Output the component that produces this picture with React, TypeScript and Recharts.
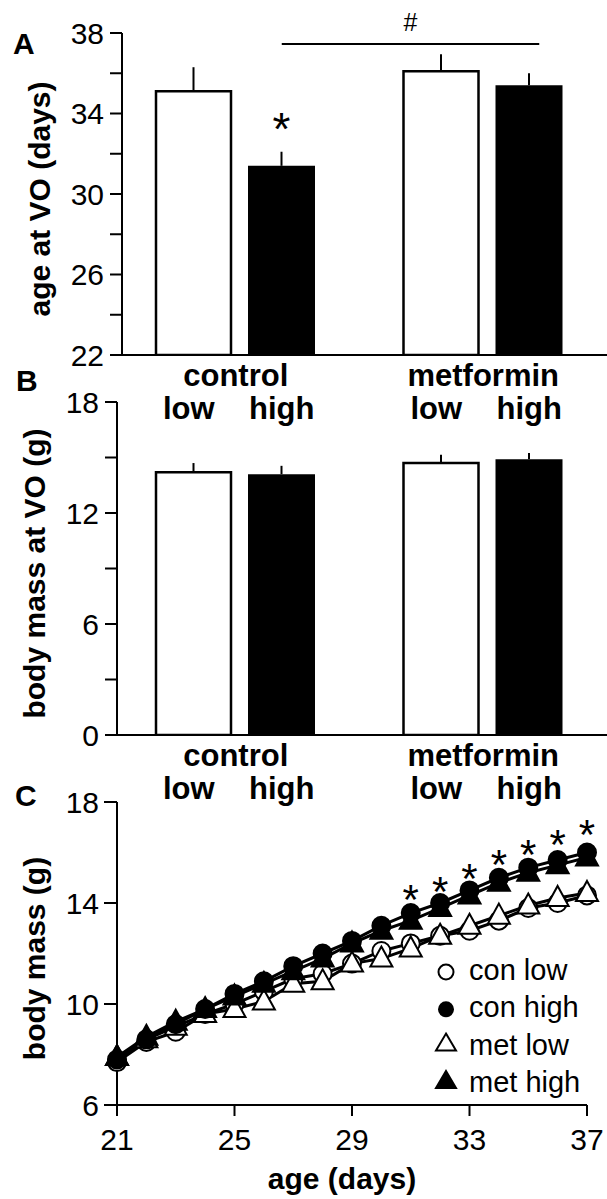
import React from 'react';
import {
  BarChart, Bar, XAxis, YAxis, ErrorBar, LabelList, ReferenceLine,
  ComposedChart, Line, Legend,
} from 'recharts';

const FONT = '"Liberation Sans", Arial, Helvetica, sans-serif';

// panels A and B
const groups = ['control', 'metformin'];
const doses = ['low', 'high'];

const ageLow = [35.1, 36.1];
const ageLowErr = [1.2, 0.85];
const ageHigh = [31.4, 35.4];
const ageHighErr = [0.7, 0.6];
const ageHighStars = ['*', ''];
const ageTicks = [22, 24, 26, 28, 30, 32, 34, 36, 38];
const ageTickLabels = [22, 26, 30, 34, 38];

const massLow = [14.2, 14.7];
const massLowErr = [0.5, 0.45];
const massHigh = [14.1, 14.9];
const massHighErr = [0.45, 0.35];
const massTicks = [0, 3, 6, 9, 12, 15, 18];
const massTickLabels = [0, 6, 12, 18];

// panel C
const days = [21, 22, 23, 24, 25, 26, 27, 28, 29, 30, 31, 32, 33, 34, 35, 36, 37];
const conLow = [7.7, 8.5, 8.9, 9.6, 10.0, 10.5, 11.0, 11.2, 11.6, 12.1, 12.4, 12.7, 12.9, 13.3, 13.8, 14.0, 14.3];
const conHigh = [7.8, 8.6, 9.2, 9.8, 10.4, 10.9, 11.5, 12.0, 12.5, 13.1, 13.6, 14.0, 14.5, 15.0, 15.4, 15.7, 16.0];
const metLow = [7.9, 8.6, 9.1, 9.6, 9.8, 10.1, 10.8, 10.9, 11.6, 11.8, 12.2, 12.7, 13.1, 13.5, 13.9, 14.2, 14.4];
const metHigh = [7.9, 8.7, 9.3, 9.8, 10.3, 10.8, 11.3, 11.8, 12.4, 12.9, 13.3, 13.8, 14.3, 14.8, 15.2, 15.5, 15.8];
const sigDays = [31, 32, 33, 34, 35, 36, 37];
const sigLevel = [14.5, 14.85, 15.35, 15.9, 16.3, 16.7, 17.1];
const growthTicks = [6, 10, 14, 18];
const dayTicks = [21, 25, 29, 33, 37];
const legendLabels = ['con low', 'con high', 'met low', 'met high'];

const ageData = groups.map((g, i) => ({
  group: g,
  low: ageLow[i],
  lowErr: [0, ageLowErr[i]],
  high: ageHigh[i],
  highErr: [0, ageHighErr[i]],
  star: ageHighStars[i],
}));

const massData = groups.map((g, i) => ({
  group: g,
  low: massLow[i],
  lowErr: [0, massLowErr[i]],
  high: massHigh[i],
  highErr: [0, massHighErr[i]],
}));

const growthData = days.map((d, i) => {
  const s = sigDays.indexOf(d);
  return {
    day: d,
    conLow: conLow[i],
    conHigh: conHigh[i],
    metLow: metLow[i],
    metHigh: metHigh[i],
    sig: s >= 0 ? sigLevel[s] : null,
  };
});

const LOW_W = 75;
const HIGH_W = 67;
const GAP = 17;
const BAND_START = 112;

const GroupTick = (props: any) => {
  const { x, y, payload } = props;
  const common = { fontFamily: FONT, fontSize: 31, fontWeight: 'bold', fill: '#000', textAnchor: 'middle' as const };
  return (
    <g>
      <text x={x} y={y + 31} {...common}>{payload.value}</text>
      <text x={x - 47} y={y + 64} {...common}>{doses[0]}</text>
      <text x={x + 46} y={y + 64} {...common}>{doses[1]}</text>
    </g>
  );
};

const yTitle = (text: string, cx: number) => (props: any) => {
  const vb = props.viewBox;
  const cy = vb.y + vb.height / 2 + 5;
  return (
    <text x={cx} y={cy} transform={`rotate(-90 ${cx} ${cy})`} textAnchor="middle"
      dominantBaseline="central" fontFamily={FONT} fontSize={30} fontWeight="bold" fill="#000">
      {text}
    </text>
  );
};

const tickStyle = { fontFamily: FONT, fontSize: 30, fill: '#000' };
const axisStroke = { stroke: '#000', strokeWidth: 2 };

const StarLabel = (props: any) => {
  const { x, y, width, value } = props;
  if (!value) return null;
  return (
    <text x={x + width / 2} y={y - 47 + 26} textAnchor="middle" fontFamily={FONT} fontSize={46} fill="#000">
      {value}
    </text>
  );
};

const Bracket = (props: any) => {
  const { x1, y1, x2 } = props;
  const a = x1 + 46;
  const b = x2 + 56;
  return (
    <g>
      <line x1={a} y1={y1} x2={b} y2={y1} stroke="#000" strokeWidth={2} />
      <text x={(a + b) / 2} y={y1 - 13} textAnchor="middle" fontFamily={FONT} fontSize={25} fill="#000">#</text>
    </g>
  );
};

const circleDot = (fill: string) => (p: any) => {
  if (p.cy == null) return <g key={`c-${p.index}`} />;
  return <circle key={`c-${p.index}`} cx={p.cx} cy={p.cy} r={9} fill={fill} stroke="#000" strokeWidth={2} />;
};

const triDot = (fill: string) => (p: any) => {
  if (p.cy == null) return <g key={`t-${p.index}`} />;
  const { cx, cy } = p;
  return (
    <path key={`t-${p.index}`} d={`M${cx},${cy - 12} L${cx + 11},${cy + 8} L${cx - 11},${cy + 8} Z`}
      fill={fill} stroke="#000" strokeWidth={2} strokeLinejoin="miter" />
  );
};

const starDot = (p: any) => {
  if (p.cy == null || p.value == null) return <g key={`s-${p.index}`} />;
  return (
    <text key={`s-${p.index}`} x={p.cx} y={p.cy + 24} textAnchor="middle" fontFamily={FONT} fontSize={42} fill="#000">*</text>
  );
};

const markerFor = (i: number, cx: number, cy: number) => {
  if (i === 0) return <circle cx={cx} cy={cy} r={7.5} fill="#fff" stroke="#000" strokeWidth={2} />;
  if (i === 1) return <circle cx={cx} cy={cy} r={8} fill="#000" />;
  const fill = i === 2 ? '#fff' : '#000';
  return <path d={`M${cx},${cy - 9} L${cx + 10},${cy + 8} L${cx - 10},${cy + 8} Z`} fill={fill} stroke="#000" strokeWidth={2} />;
};

const GrowthLegend = () => (
  <svg width={177} height={160}>
    {legendLabels.map((lab, i) => {
      const base = 30 + i * 37.3;
      return (
        <g key={lab}>
          {markerFor(i, 16, base - (i < 2 ? 8 : 12))}
          <text x={39} y={base} fontFamily={FONT} fontSize={29} fill="#000">{lab}</text>
        </g>
      );
    })}
  </svg>
);

const xTitle = (text: string) => (props: any) => {
  const vb = props.viewBox;
  return (
    <text x={vb.x + vb.width / 2 - 10} y={vb.y + 84} textAnchor="middle" fontFamily={FONT}
      fontSize={30} fontWeight="bold" fill="#000">
      {text}
    </text>
  );
};

const BarPanel = ({ data, ticks, labels, domain, title, titleX, top, marginTop, axisX, stars }: any) => (
  <div style={{ position: 'absolute', left: 0, top }}>
    <BarChart width={607} height={430} data={data} barGap={GAP}
      margin={{ top: marginTop, right: 0, bottom: 5, left: 0 }}>
      <XAxis dataKey="group" axisLine={axisStroke} tickLine={false} tickSize={0} tickMargin={0}
        height={70} interval={0} tick={<GroupTick />} padding={{ left: BAND_START - axisX, right: 0 }} />
      <YAxis domain={domain} ticks={ticks} width={axisX} axisLine={axisStroke} tickLine={axisStroke}
        tickSize={12} tickMargin={6} tick={tickStyle} allowDataOverflow
        tickFormatter={(v: number) => (labels.includes(v) ? String(v) : '')}
        label={yTitle(title, titleX)} />
      {stars && (
        <ReferenceLine segment={[{ x: 'control', y: 37.45 }, { x: 'metformin', y: 37.45 }]}
          ifOverflow="visible" shape={<Bracket />} />
      )}
      <Bar dataKey="low" barSize={LOW_W} fill="#fff" stroke="#000" strokeWidth={2.5} isAnimationActive={false}>
        <ErrorBar dataKey="lowErr" width={0} stroke="#000" strokeWidth={2} direction="y" />
      </Bar>
      <Bar dataKey="high" barSize={HIGH_W} fill="#000" isAnimationActive={false}>
        <ErrorBar dataKey="highErr" width={0} stroke="#000" strokeWidth={2} direction="y" />
        {stars && <LabelList dataKey="star" content={<StarLabel />} />}
      </Bar>
    </BarChart>
  </div>
);

const PanelLetter = ({ letter, x, y }: any) => (
  <text x={x} y={y} fontFamily={FONT} fontSize={30} fontWeight="bold" fill="#000">{letter}</text>
);

export default function App() {
  return (
    <div style={{ position: 'absolute', left: 0, top: 0, width: 607, height: 1199, background: '#fff', overflow: 'hidden' }}>
      <svg width={607} height={1199} style={{ position: 'absolute', left: 0, top: 0 }}>
        <PanelLetter letter="A" x={13} y={54} />
        <PanelLetter letter="B" x={16} y={391} />
        <PanelLetter letter="C" x={15} y={806} />
      </svg>

      <BarPanel data={ageData} ticks={ageTicks} labels={ageTickLabels} domain={[22, 38]}
        title="age at VO (days)" titleX={39} top={0} marginTop={33} axisX={122} stars />

      <BarPanel data={massData} ticks={massTicks} labels={massTickLabels} domain={[0, 18]}
        title="body mass at VO (g)" titleX={34} top={380} marginTop={22} axisX={117} />

      <div style={{ position: 'absolute', left: 0, top: 780 }}>
        <ComposedChart width={607} height={419} data={growthData}
          margin={{ top: 22, right: 20, bottom: 5, left: 0 }}>
          <XAxis dataKey="day" type="number" domain={[21, 37]} ticks={dayTicks} axisLine={axisStroke}
            tickLine={axisStroke} tickSize={11} tickMargin={13} tick={tickStyle} height={89}
            label={xTitle('age (days)')} />
          <YAxis domain={[6, 18]} ticks={growthTicks} width={117} axisLine={axisStroke} tickLine={axisStroke}
            tickSize={13} tickMargin={5} tick={tickStyle} label={yTitle('body mass (g)', 34)} />
          <Legend layout="vertical" align="center" verticalAlign="middle" content={<GrowthLegend />}
            wrapperStyle={{ left: 430, top: 170, width: 177 }} />
          <Line dataKey="conLow" name={legendLabels[0]} stroke="#000" strokeWidth={3} dot={circleDot('#fff')}
            activeDot={false} isAnimationActive={false} />
          <Line dataKey="metLow" name={legendLabels[2]} stroke="#000" strokeWidth={3} dot={triDot('#fff')}
            activeDot={false} isAnimationActive={false} />
          <Line dataKey="conHigh" name={legendLabels[1]} stroke="#000" strokeWidth={3} dot={circleDot('#000')}
            activeDot={false} isAnimationActive={false} />
          <Line dataKey="metHigh" name={legendLabels[3]} stroke="#000" strokeWidth={3} dot={triDot('#000')}
            activeDot={false} isAnimationActive={false} />
          <Line dataKey="sig" stroke="none" legendType="none" dot={starDot} activeDot={false}
            isAnimationActive={false} />
        </ComposedChart>
      </div>
    </div>
  );
}
